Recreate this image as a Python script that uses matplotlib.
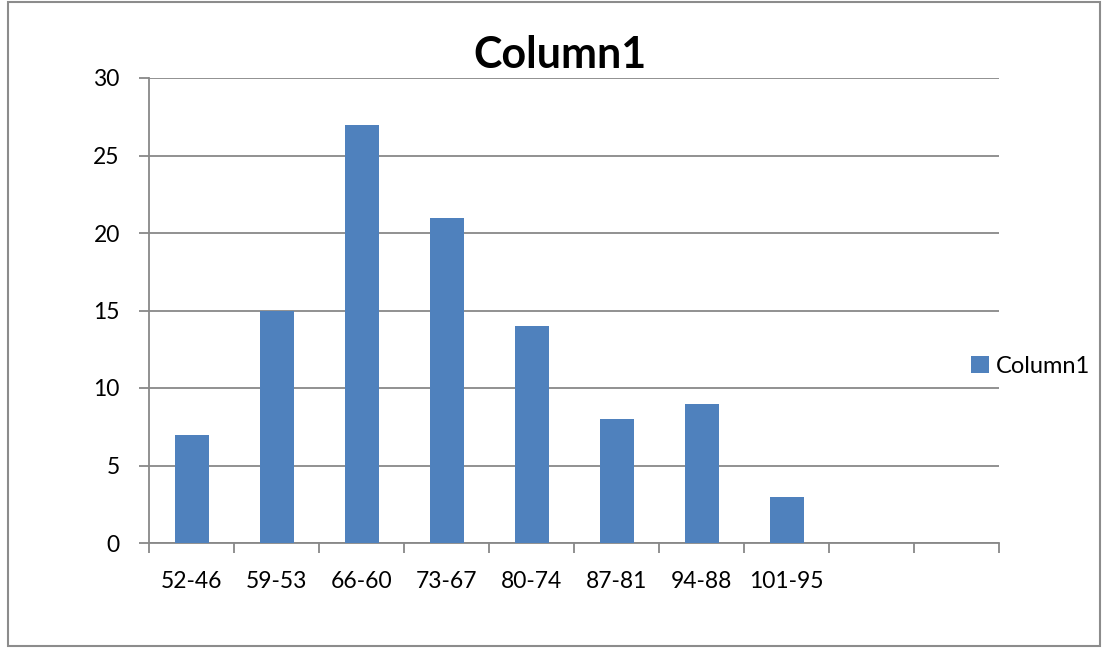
import numpy as np
import matplotlib
matplotlib.use('Agg')
from matplotlib import pyplot as plt
from matplotlib.patches import Rectangle

categories = ['52-46', '59-53', '66-60', '73-67', '80-74', '87-81', '94-88', '101-95']
values = [7, 15, 27, 21, 14, 8, 9, 3]
n_slots = 10
yticks = [0, 5, 10, 15, 20, 25, 30]
series_name = 'Column1'

plt.rcParams['font.family'] = ['Lato', 'DejaVu Sans']
grid_col = '#888888'
bar_col = '#4f81bd'

fig = plt.figure(figsize=(11.03, 6.48), dpi=100)
fig.patches.append(Rectangle((8 / 1103, 2 / 648), 1092 / 1103, 644 / 648,
                             transform=fig.transFigure, fill=False,
                             edgecolor='#8c8c8c', linewidth=1.5))
ax = fig.add_axes([149 / 1103, 1 - 543 / 648, 850 / 1103, 465 / 648])

x = np.arange(len(categories))
ax.bar(x, values, width=0.4, color=bar_col, label=series_name, zorder=3)

ax.set_xlim(-0.5, n_slots - 0.5)
ax.set_ylim(0, 30)
ax.set_yticks(yticks)
ax.yaxis.grid(True, color=grid_col, linewidth=1.3)
ax.set_axisbelow(True)

ax.set_xticks(np.arange(n_slots + 1) - 0.5)
ax.set_xticklabels([])
ax.set_xticks(x, minor=True)
ax.set_xticklabels(categories, minor=True)
ax.tick_params(axis='x', which='minor', length=0, pad=20, labelsize=16.5)
ax.tick_params(axis='x', which='major', length=7, width=1.3, color=grid_col)
ax.tick_params(axis='y', length=7, width=1.3, color=grid_col, labelsize=16.5, pad=14)

for s in ['top', 'right']:
    ax.spines[s].set_visible(False)
for s in ['left', 'bottom']:
    ax.spines[s].set_color(grid_col)
    ax.spines[s].set_linewidth(1.3)

fig.text(560 / 1103, 1 - 55 / 648, series_name, ha='center', va='center',
         fontsize=31, fontweight='bold')

ax.legend(loc='center left', bbox_to_anchor=((950 - 149) / 850, 0.38),
          frameon=False, fontsize=17, handlelength=0.75, handleheight=0.75,
          handletextpad=0.3)

fig.savefig('out.png', dpi=100)
